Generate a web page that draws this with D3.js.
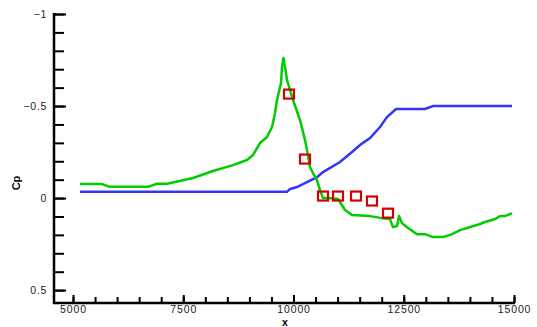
<!DOCTYPE html>
<html>
<head>
<meta charset="utf-8">
<script src="https://cdn.jsdelivr.net/npm/d3@7"></script>
<style>
  body { margin: 0; background: #fff; }
  text { font-family: "Liberation Sans", Arial, sans-serif; }
</style>
</head>
<body>
<script>
// green curve
var greenX = [5160,5658,5839,6701,6905,7132,7721,8175,8628,8946,9082,9240,9399,9513,9581,9626,9717,9740,9773,9819,9853,9989,10148,10261,10306,10374,10442,10533,10601,10669,10782,11009,11168,11327,11735,12007,12188,12256,12347,12392,12460,12574,12801,12982,13164,13390,13594,13776,14229,14343,14570,14683,14796,14955];
var greenCp = [-0.076,-0.076,-0.061,-0.061,-0.078,-0.078,-0.109,-0.147,-0.179,-0.207,-0.234,-0.299,-0.332,-0.386,-0.462,-0.533,-0.625,-0.712,-0.761,-0.696,-0.641,-0.533,-0.424,-0.315,-0.261,-0.168,-0.136,-0.098,-0.043,0,0,0.005,0.065,0.092,0.098,0.109,0.114,0.158,0.152,0.098,0.136,0.158,0.196,0.196,0.212,0.212,0.196,0.174,0.141,0.130,0.114,0.098,0.098,0.082];

// blue curve
var blueX = [5160,9853,9921,10079,10306,10533,10669,11054,11327,11508,11735,11962,12120,12325,12982,13164,14955];
var blueCp = [-0.035,-0.035,-0.049,-0.060,-0.087,-0.114,-0.141,-0.196,-0.250,-0.288,-0.326,-0.386,-0.440,-0.484,-0.484,-0.500,-0.500];

// red squares
var markX = [9898,10261,10669,11009,11417,11780,12143];
var markCp = [-0.565,-0.212,-0.011,-0.011,-0.011,0.016,0.082];

var xMajor = [5000,7500,10000,12500,15000];
var yMajor = [-1,-0.5,0,0.5];

var width = 537, height = 327;

var svg = d3.select('body')
            .append('svg')
            .attr('width', width)
            .attr('height', height)

var x = d3.scaleLinear().domain([4569,15000]).range([54,514]);
var y = d3.scaleLinear().domain([-1,0.57]).range([14,303]);

var xMinor = d3.range(5000,15001,500);
var yMinor = d3.range(-10,6).map(function(d){return d/10;});

var line = d3.line()
             .x(function(d){return x(d[0]);})
             .y(function(d){return y(d[1]);});

svg.append('path')
   .attr('fill','none')
   .attr('stroke','#3434ff')
   .attr('stroke-width',2.5)
   .attr('d', line(d3.zip(blueX, blueCp)))

svg.append('path')
   .attr('fill','none')
   .attr('stroke','#00cc00')
   .attr('stroke-width',2.5)
   .attr('stroke-linejoin','round')
   .attr('d', line(d3.zip(greenX, greenCp)))

svg.selectAll('rect.mark')
   .data(d3.zip(markX, markCp))
   .enter()
   .append('rect')
   .attr('class','mark')
   .attr('x', function(d){return x(d[0]) - 5;})
   .attr('y', function(d){return y(d[1]) - 4.5;})
   .attr('width',10)
   .attr('height',9)
   .attr('fill','none')
   .attr('stroke','#d40000')
   .attr('stroke-width',2.2)

// x axis
var gx = svg.append('g').attr('transform','translate(0,303)');
gx.append('g')
  .call(d3.axisBottom(x).tickValues(xMinor).tickSize(-6).tickFormat(''))
gx.append('g')
  .call(d3.axisBottom(x).tickValues(xMajor).tickSize(-8).tickPadding(3).tickFormat(d3.format('d')))
gx.selectAll('.domain').remove();
gx.selectAll('line').attr('stroke','#000').attr('stroke-width',2);
gx.selectAll('text')
  .attr('font-size','10.5px')
  .attr('letter-spacing','0.9px')
  .attr('fill','#222')
gx.append('line')
  .attr('x1',53).attr('x2',515)
  .attr('stroke','#000').attr('stroke-width',2.5)

// y axis
var gy = svg.append('g').attr('transform','translate(54,0)');
gy.append('g')
  .call(d3.axisLeft(y).tickValues(yMinor).tickSize(-10).tickFormat(''))
gy.append('g')
  .call(d3.axisLeft(y).tickValues(yMajor).tickSize(-12).tickPadding(7)
        .tickFormat(function(d){return d3.format('')(d);}))
gy.selectAll('.domain').remove();
gy.selectAll('line').attr('stroke','#000').attr('stroke-width',2);
gy.selectAll('text')
  .attr('font-size','10.5px')
  .attr('letter-spacing','0.7px')
  .attr('fill','#222')
  .attr('x',-7)
gy.append('line')
  .attr('y1',13).attr('y2',304)
  .attr('stroke','#000').attr('stroke-width',2.5)

svg.append('text')
   .attr('x',285).attr('y',326)
   .attr('text-anchor','middle')
   .attr('font-size','10.5px')
   .attr('font-weight','bold')
   .text('x')

svg.append('text')
   .attr('transform','translate(20,183) rotate(-90)')
   .attr('text-anchor','middle')
   .attr('font-size','11px')
   .attr('font-weight','bold')
   .text('Cp')
</script>
</body>
</html>
